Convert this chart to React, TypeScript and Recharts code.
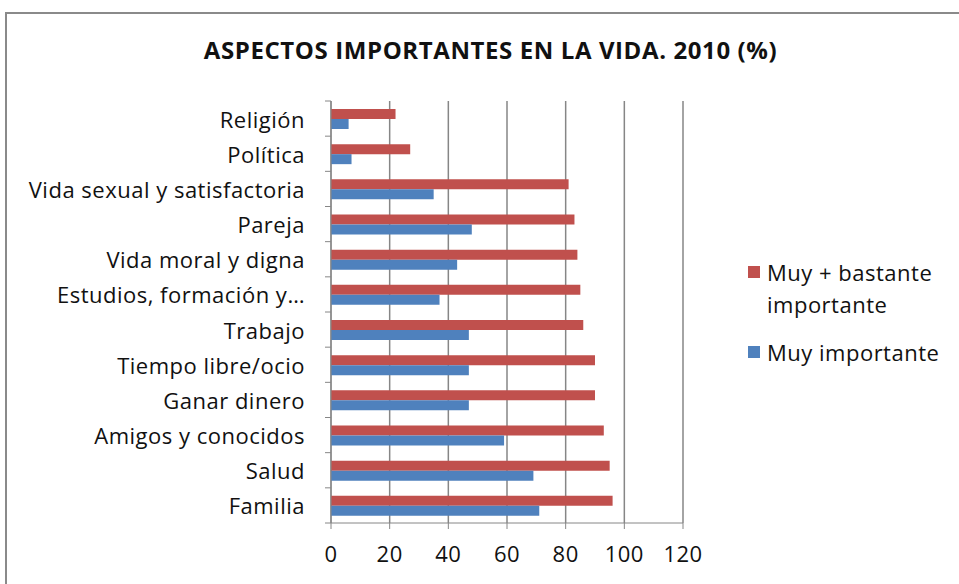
import { BarChart, Bar, XAxis, YAxis, CartesianGrid, Legend } from "recharts";

const categories = [
  "Religión",
  "Política",
  "Vida sexual y satisfactoria",
  "Pareja",
  "Vida moral y digna",
  "Estudios, formación y…",
  "Trabajo",
  "Tiempo libre/ocio",
  "Ganar dinero",
  "Amigos y conocidos",
  "Salud",
  "Familia",
];
const muyBastante = [22, 27, 81, 83, 84, 85, 86, 90, 90, 93, 95, 96];
const muyImportante = [6, 7, 35, 48, 43, 37, 47, 47, 47, 59, 69, 71];
const xTicks = [0, 20, 40, 60, 80, 100, 120];

const data = categories.map((name, i) => ({
  name,
  muyBastante: muyBastante[i],
  muyImportante: muyImportante[i],
}));

const RED = "#C0504D";
const BLUE = "#4F81BD";
const AXIS = "#868686";
const FONT = "'Open Sans', Lato, sans-serif";
const FS = 22;
const LS = 0.5;

const PLOT_TOP = 101;
const PLOT_H = 422;
const BAND = PLOT_H / categories.length;

function CategoryTick(props: any) {
  const { x, y, payload, index } = props;
  const isLast = index === categories.length - 1;
  return (
    <g>
      <line x1={x + 20} x2={x + 26} y1={y - BAND / 2} y2={y - BAND / 2} stroke={AXIS} />
      {isLast && <line x1={x + 20} x2={x + 26} y1={y + BAND / 2} y2={y + BAND / 2} stroke={AXIS} />}
      <text
        x={x}
        y={y}
        textAnchor="end"
        dominantBaseline="central"
        fontSize={FS}
        letterSpacing={LS}
        fill="#111"
        fontFamily={FONT}
      >
        {payload.value}
      </text>
    </g>
  );
}

function LegendBox() {
  const items = [
    { color: RED, lines: ["Muy + bastante", "importante"] },
    { color: BLUE, lines: ["Muy importante"] },
  ];
  return (
    <div style={{ fontFamily: FONT, fontSize: FS, letterSpacing: LS, color: "#111", lineHeight: "32px" }}>
      {items.map((it, i) => (
        <div key={i} style={{ display: "flex", alignItems: "flex-start", marginBottom: i === 0 ? 16 : 0 }}>
          <span style={{ width: 12, height: 12, background: it.color, marginTop: 10, marginRight: 7, flex: "none" }} />
          <div>
            {it.lines.map((l, j) => (
              <div key={j}>{l}</div>
            ))}
          </div>
        </div>
      ))}
    </div>
  );
}

export default function App() {
  return (
    <div style={{ position: "absolute", left: 0, top: 0, width: 959, height: 584, overflow: "hidden", background: "#fff" }}>
      <div
        style={{
          position: "absolute",
          left: 5,
          top: 12,
          width: 1000,
          height: 700,
          border: "2px solid #8a8a8a",
          boxSizing: "border-box",
        }}
      />
      <div
        style={{
          position: "absolute",
          top: 33,
          left: 0,
          width: 981,
          textAlign: "center",
          fontFamily: FONT,
          fontWeight: "bold",
          fontSize: 24,
          letterSpacing: 0.6,
          color: "#111",
        }}
      >
        ASPECTOS IMPORTANTES EN LA VIDA. 2010 (%)
      </div>
      <div style={{ position: "absolute", left: 0, top: 0 }}>
        <BarChart
          width={959}
          height={584}
          data={data}
          layout="vertical"
          margin={{ top: PLOT_TOP, right: 56, bottom: 0, left: 0 }}
          barCategoryGap="21%"
          barGap={0}
        >
          <CartesianGrid horizontal={false} vertical stroke={AXIS} strokeWidth={1.5} />
          <XAxis
            type="number"
            domain={[0, 120]}
            ticks={xTicks}
            interval={0}
            height={61}
            stroke={AXIS}
            tickSize={6}
            tickMargin={17}
            tick={{ fontSize: FS, fill: "#111", fontFamily: FONT, letterSpacing: LS }}
          />
          <YAxis
            type="category"
            dataKey="name"
            width={331}
            stroke={AXIS}
            tickLine={false}
            tickSize={6}
            tickMargin={20}
            interval={0}
            tick={<CategoryTick />}
          />
          <Legend
            layout="vertical"
            align="right"
            verticalAlign="middle"
            wrapperStyle={{ left: 748, top: 256, width: 220 }}
            content={() => <LegendBox />}
          />
          <Bar dataKey="muyBastante" name="Muy + bastante importante" fill={RED} barSize={10} isAnimationActive={false} />
          <Bar dataKey="muyImportante" name="Muy importante" fill={BLUE} barSize={10} isAnimationActive={false} />
        </BarChart>
      </div>
    </div>
  );
}
